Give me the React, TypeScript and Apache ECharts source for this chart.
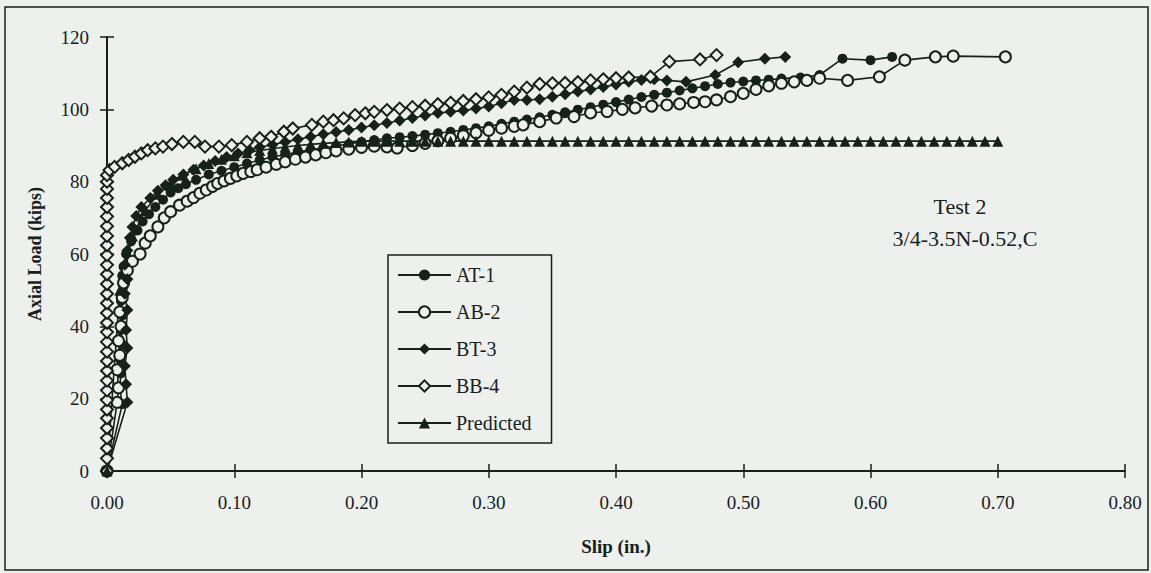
import React, { useEffect, useRef } from "react";
import * as echarts from "echarts";

// ---- data (slip in., axial load kips) ----
const seriesNames = ["AT-1", "AB-2", "BT-3", "BB-4", "Predicted"];

const at1: number[][] = [
  [0, 0], [0.012, 18.5], [0.010, 23], [0.011, 27], [0.010, 31], [0.012, 35], [0.011, 39],
  [0.012, 43], [0.011, 47], [0.013, 51], [0.012, 54], [0.013, 56.5], [0.015, 60],
  [0.019, 63.5], [0.024, 66.5], [0.028, 69], [0.033, 71], [0.038, 73], [0.044, 75],
  [0.05, 77], [0.056, 78.2], [0.062, 79.3], [0.07, 80.5], [0.08, 82], [0.09, 83],
  [0.10, 84], [0.11, 85], [0.12, 86], [0.13, 86.8], [0.14, 87.5], [0.15, 88.2],
  [0.16, 88.8], [0.17, 89.3], [0.18, 89.9], [0.19, 90.4], [0.20, 91], [0.21, 91.5],
  [0.22, 92], [0.23, 92.3], [0.24, 92.6], [0.25, 93], [0.26, 93.4], [0.27, 93.8],
  [0.28, 94.3], [0.29, 94.8], [0.30, 95.3], [0.31, 96], [0.32, 96.6], [0.33, 97.2],
  [0.34, 97.8], [0.35, 98.5], [0.36, 99.2], [0.37, 99.9], [0.38, 100.6], [0.39, 101.3],
  [0.40, 102], [0.41, 102.7], [0.42, 103.4], [0.43, 104], [0.44, 104.6], [0.45, 105.2],
  [0.46, 105.8], [0.47, 106.4], [0.48, 107], [0.49, 107.4], [0.50, 107.7], [0.51, 108],
  [0.52, 108.2], [0.53, 108.5], [0.545, 108.8], [0.56, 109.5], [0.578, 114],
  [0.60, 113.6], [0.617, 114.5],
];

const ab2: number[][] = [
  [0, 0], [0.008, 19], [0.009, 23], [0.008, 28], [0.010, 32], [0.009, 36], [0.011, 40],
  [0.010, 44], [0.012, 48], [0.013, 52], [0.016, 55.5], [0.02, 58], [0.026, 60],
  [0.03, 63], [0.034, 65], [0.04, 67.5], [0.045, 70], [0.05, 71.7], [0.057, 73.5],
  [0.063, 74.6], [0.068, 75.6], [0.073, 76.8], [0.078, 77.7], [0.083, 78.7],
  [0.087, 79.5], [0.092, 80.2], [0.097, 80.9], [0.102, 81.6], [0.107, 82.3],
  [0.113, 82.8], [0.118, 83.3], [0.125, 84], [0.133, 84.8], [0.14, 85.5],
  [0.148, 86.2], [0.156, 86.8], [0.164, 87.4], [0.172, 88], [0.18, 88.5], [0.19, 89],
  [0.20, 89.5], [0.21, 89.8], [0.22, 89.6], [0.228, 89.3], [0.24, 90], [0.25, 90.6],
  [0.26, 91.3], [0.27, 92], [0.28, 92.7], [0.29, 93.5], [0.30, 94.2], [0.31, 94.8],
  [0.32, 95.3], [0.327, 95.7], [0.34, 96.6], [0.353, 97.6], [0.367, 98], [0.38, 99],
  [0.393, 99.4], [0.405, 100], [0.415, 100.4], [0.428, 100.9], [0.44, 101.2],
  [0.45, 101.5], [0.461, 101.9], [0.47, 102.1], [0.479, 102.6], [0.49, 103.5],
  [0.50, 104.4], [0.51, 105.5], [0.52, 106.5], [0.53, 107.2], [0.54, 107.6],
  [0.55, 108], [0.56, 108.6], [0.582, 108], [0.607, 109], [0.627, 113.6],
  [0.651, 114.5], [0.665, 114.7], [0.706, 114.5],
];

const bt3: number[][] = [
  [0, 0], [0.016, 19], [0.015, 24], [0.014, 29], [0.016, 34], [0.015, 39], [0.016, 44.5],
  [0.014, 49], [0.016, 53], [0.014, 57], [0.016, 61], [0.018, 64.5], [0.020, 67.5],
  [0.023, 70.5], [0.027, 73], [0.034, 75.5], [0.04, 77.5], [0.046, 79], [0.052, 80.5],
  [0.06, 82], [0.068, 83.3], [0.076, 84.5], [0.085, 85.7], [0.094, 86.8],
  [0.103, 87.8], [0.112, 88.7], [0.12, 89.5], [0.13, 90.2], [0.14, 91], [0.15, 91.7],
  [0.16, 92.4], [0.17, 93.1], [0.18, 93.7], [0.19, 94.3], [0.20, 95], [0.21, 95.6],
  [0.22, 96.2], [0.23, 96.9], [0.24, 97.6], [0.25, 98.3], [0.26, 99], [0.27, 99.3],
  [0.28, 99.7], [0.29, 100.2], [0.30, 100.8], [0.31, 101.7], [0.32, 102.6],
  [0.33, 102.6], [0.34, 102.8], [0.35, 103.5], [0.36, 104.2], [0.37, 104.9],
  [0.38, 105.5], [0.39, 106.2], [0.40, 106.9], [0.41, 107.6], [0.42, 108.1],
  [0.43, 108.3], [0.44, 108], [0.455, 107.6], [0.478, 109.5], [0.496, 113],
  [0.517, 114], [0.533, 114.5],
];

const bb4: number[][] = [
  [0, 0], [0, 3.5], [0, 6.3], [0, 9.1], [0, 11.9], [0, 14.6], [0, 17], [0, 19.6],
  [0, 22.3], [0, 25], [0, 27.7], [0, 30.4], [0, 33], [0, 35.7], [0, 38.4], [0, 41],
  [0, 43.7], [0, 46.4], [0, 49], [0, 51.7], [0, 54.4], [0, 57], [0, 59.7], [0, 62.4],
  [0, 65], [0, 67.7], [0, 70.4], [0, 73], [0, 75.5], [0, 78], [0, 80], [0, 81.8],
  [0.002, 83.2], [0.006, 84.1], [0.012, 85.1], [0.017, 86], [0.022, 86.9],
  [0.027, 87.8], [0.032, 88.7], [0.038, 89.2], [0.044, 89.7], [0.051, 90.4],
  [0.06, 91], [0.069, 91], [0.077, 89.7], [0.088, 89.7], [0.098, 90.1], [0.11, 91],
  [0.12, 92], [0.129, 92.4], [0.139, 93.8], [0.146, 94.7], [0.161, 95.7], [0.17, 96.6],
  [0.178, 97], [0.186, 97.5], [0.195, 98.4], [0.203, 98.9], [0.21, 99.3], [0.22, 99.8],
  [0.23, 100.2], [0.24, 100.6], [0.25, 101], [0.26, 101.4], [0.27, 101.8],
  [0.28, 102.3], [0.29, 102.8], [0.30, 103.3], [0.31, 104], [0.32, 104.9], [0.33, 106],
  [0.34, 107], [0.35, 107.2], [0.36, 107.3], [0.37, 107.5], [0.38, 108], [0.39, 108.3],
  [0.40, 108.6], [0.41, 108.8], [0.427, 109], [0.442, 113.2], [0.466, 113.8],
  [0.479, 115],
];

const predicted: number[][] = [
  [0, 0], [0.01, 50], [0.02, 65], [0.03, 72], [0.04, 76.5], [0.05, 79.5], [0.06, 81.8],
  [0.07, 83.6], [0.08, 85], [0.09, 86.2], [0.10, 87.2], [0.11, 88], [0.12, 88.6],
  [0.13, 89.1], [0.14, 89.6], [0.15, 90], [0.16, 90.3], [0.17, 90.6], [0.18, 90.8],
  [0.19, 91], [0.20, 91.2], [0.21, 91.2], [0.22, 91.2], [0.23, 91.2], [0.24, 91.2],
  [0.25, 91.2], [0.26, 91.2], [0.27, 91.2], [0.28, 91.2], [0.29, 91.2], [0.30, 91.2],
  [0.31, 91.2], [0.32, 91.2], [0.33, 91.2], [0.34, 91.2], [0.35, 91.2], [0.36, 91.2],
  [0.37, 91.2], [0.38, 91.2], [0.39, 91.2], [0.40, 91.2], [0.41, 91.2], [0.42, 91.2],
  [0.43, 91.2], [0.44, 91.2], [0.45, 91.2], [0.46, 91.2], [0.47, 91.2], [0.48, 91.2],
  [0.49, 91.2], [0.50, 91.2], [0.51, 91.2], [0.52, 91.2], [0.53, 91.2], [0.54, 91.2],
  [0.55, 91.2], [0.56, 91.2], [0.57, 91.2], [0.58, 91.2], [0.59, 91.2], [0.60, 91.2],
  [0.61, 91.2], [0.62, 91.2], [0.63, 91.2], [0.64, 91.2], [0.65, 91.2], [0.66, 91.2],
  [0.67, 91.2], [0.68, 91.2], [0.69, 91.2], [0.70, 91.2],
];

const xTicks = { min: 0, max: 0.8, interval: 0.1 };
const yTicks = { min: 0, max: 120, interval: 20 };
const annotation = ["Test 2", "3/4-3.5N-0.52,C"];
const xName = "Slip (in.)";
const yName = "Axial Load (kips)";

const DARK = "#17211b";
const BG = "#eef0ee";
const FONT = "'Liberation Serif', 'Times New Roman', serif";

export default function App() {
  const ref = useRef<HTMLDivElement>(null);
  useEffect(() => {
    if (!ref.current) return;
    const chart = echarts.init(ref.current, undefined, { renderer: "svg" });
    const line = { color: DARK, width: 1.6 };
    const filled = { color: DARK };
    const hollow = { color: BG, borderColor: DARK, borderWidth: 2 };
    const axisBase = {
      type: "value" as const,
      splitLine: { show: false },
    };
    chart.setOption({
      animation: false,
      backgroundColor: BG,
      textStyle: { fontFamily: FONT, color: DARK },
      grid: { left: 107, top: 37, right: 26, bottom: 102, containLabel: false },
      xAxis: [
        {
          ...axisBase,
          ...xTicks,
          position: "bottom",
          axisLine: { lineStyle: { color: DARK, width: 2 } },
          axisTick: { length: 7, lineStyle: { color: DARK, width: 1.5 } },
          axisLabel: {
            formatter: (v: number) => v.toFixed(2),
            fontSize: 19,
            color: DARK,
            fontFamily: FONT,
            margin: 22,
          },
          name: xName,
          nameLocation: "middle",
          nameGap: 66,
          nameTextStyle: { fontWeight: "bold", fontSize: 19, color: DARK, fontFamily: FONT },
        },
        {
          ...axisBase,
          ...xTicks,
          position: "bottom",
          axisLine: { show: false },
          axisTick: { inside: true, length: 7, lineStyle: { color: DARK, width: 1.5 } },
          axisLabel: { show: false },
        },
      ],
      yAxis: [
        {
          ...axisBase,
          ...yTicks,
          position: "left",
          axisLine: { show: true, lineStyle: { color: DARK, width: 2 } },
          axisTick: { show: true, length: 7, lineStyle: { color: DARK, width: 1.5 } },
          axisLabel: { fontSize: 19, color: DARK, fontFamily: FONT, margin: 18 },
          name: yName,
          nameLocation: "middle",
          nameGap: 63,
          nameTextStyle: { fontWeight: "bold", fontSize: 18, color: DARK, fontFamily: FONT },
        },
        {
          ...axisBase,
          ...yTicks,
          position: "left",
          axisLine: { show: false },
          axisTick: { show: true, inside: true, length: 7, lineStyle: { color: DARK, width: 1.5 } },
          axisLabel: { show: false },
        },
      ],
      legend: {
        orient: "vertical",
        left: 388,
        top: 255,
        padding: [10, 20, 10, 9],
        itemWidth: 53,
        itemHeight: 14,
        itemGap: 17,
        borderColor: DARK,
        borderWidth: 1.5,
        backgroundColor: BG,
        textStyle: { fontSize: 20, color: DARK, fontFamily: FONT },
        data: seriesNames,
      },
      graphic: [
        {
          type: "rect",
          silent: true,
          shape: { x: 5, y: 7, width: 1143, height: 563 },
          style: { fill: "none", stroke: DARK, lineWidth: 1.5 },
        },
        {
          type: "text",
          x: 960,
          y: 206,
          style: {
            text: annotation[0],
            align: "center",
            verticalAlign: "middle",
            fontSize: 22,
            fontFamily: FONT,
            fill: DARK,
          },
        },
        {
          type: "text",
          x: 965,
          y: 238,
          style: {
            text: annotation[1],
            align: "center",
            verticalAlign: "middle",
            fontSize: 22,
            fontFamily: FONT,
            fill: DARK,
          },
        },
      ],
      series: [
        { name: seriesNames[0], type: "line", data: at1, symbol: "circle", symbolSize: 10, lineStyle: line, itemStyle: filled },
        { name: seriesNames[1], type: "line", data: ab2, symbol: "circle", symbolSize: 11, lineStyle: line, itemStyle: hollow },
        { name: seriesNames[2], type: "line", data: bt3, symbol: "diamond", symbolSize: 12, lineStyle: line, itemStyle: filled },
        { name: seriesNames[3], type: "line", data: bb4, symbol: "diamond", symbolSize: 12, lineStyle: line, itemStyle: hollow },
        { name: seriesNames[4], type: "line", data: predicted, symbol: "triangle", symbolSize: 11, lineStyle: line, itemStyle: filled },
      ],
    });
    return () => chart.dispose();
  }, []);
  return (
    <div
      ref={ref}
      style={{ position: "fixed", left: 0, top: 0, width: 1151, height: 573 }}
    />
  );
}
